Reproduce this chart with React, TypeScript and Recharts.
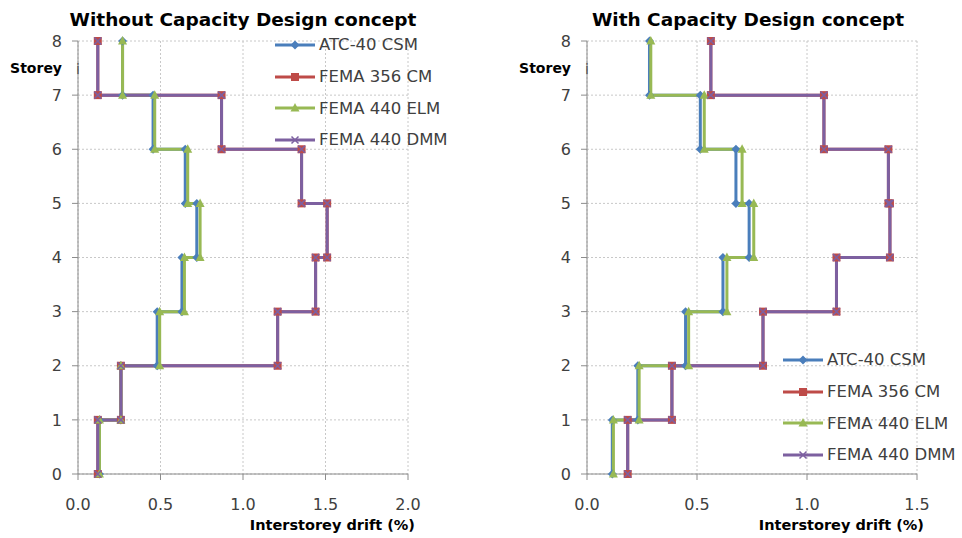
import React from 'react';
import { LineChart, Line, XAxis, YAxis, CartesianGrid, Legend, Label } from 'recharts';

const FONT = '"DejaVu Sans", sans-serif';
const TEXT = '#404040';
const AXIS = '#8c8c8c';

const seriesNames = ['ATC-40 CSM', 'FEMA 356 CM', 'FEMA 440 ELM', 'FEMA 440 DMM'];
const seriesColors = ['#4a7ebb', '#be4b48', '#98b954', '#7d60a0'];
const seriesMarkers = ['diamond', 'square', 'triangle', 'cross'];

const storeyTicks = [0, 1, 2, 3, 4, 5, 6, 7, 8];
const driftTicksLeft = [0, 0.5, 1, 1.5, 2];
const driftTicksRight = [0, 0.5, 1, 1.5];

// interstorey drift (%) for storeys 1..8, without capacity design
const woAtc40 = [0.13, 0.26, 0.48, 0.63, 0.72, 0.65, 0.455, 0.27];
const woFema356 = [0.12, 0.26, 1.21, 1.44, 1.51, 1.355, 0.87, 0.12];
const woFema440Elm = [0.13, 0.26, 0.495, 0.645, 0.74, 0.665, 0.465, 0.27];
const woFema440Dmm = [0.12, 0.26, 1.21, 1.44, 1.51, 1.355, 0.87, 0.12];

// interstorey drift (%) for storeys 1..8, with capacity design
const wAtc40 = [0.115, 0.231, 0.448, 0.618, 0.737, 0.677, 0.515, 0.284];
const wFema356 = [0.185, 0.386, 0.8, 1.134, 1.377, 1.37, 1.077, 0.563];
const wFema440Elm = [0.12, 0.237, 0.462, 0.636, 0.758, 0.705, 0.533, 0.29];
const wFema440Dmm = [0.185, 0.386, 0.8, 1.134, 1.377, 1.37, 1.077, 0.563];

// each storey drift becomes a vertical segment from floor i-1 to floor i
const toSteps = (drift: number[]) => {
  const pts: { x: number; y: number }[] = [];
  for (let i = drift.length; i >= 1; i--) {
    pts.push({ x: drift[i - 1], y: i });
    pts.push({ x: drift[i - 1], y: i - 1 });
  }
  return pts;
};

const Marker = ({ kind, cx, cy, color }: any) => {
  if (cx == null || cy == null) return null;
  switch (kind) {
    case 'diamond':
      return <path d={`M${cx},${cy - 4.5}L${cx + 4.5},${cy}L${cx},${cy + 4.5}L${cx - 4.5},${cy}Z`} fill={color} />;
    case 'square':
      return <rect x={cx - 4} y={cy - 4} width={8} height={8} fill={color} />;
    case 'triangle':
      return <path d={`M${cx},${cy - 5}L${cx + 4.5},${cy + 3.5}L${cx - 4.5},${cy + 3.5}Z`} fill={color} />;
    default:
      return (
        <path
          d={`M${cx - 3.5},${cy - 3.5}L${cx + 3.5},${cy + 3.5}M${cx + 3.5},${cy - 3.5}L${cx - 3.5},${cy + 3.5}`}
          stroke={color}
          strokeWidth={1.5}
        />
      );
  }
};

const LegendBox = () => (
  <div style={{ fontFamily: FONT }}>
    {seriesNames.map((n, i) => (
      <div key={n} style={{ height: 31.7, display: 'flex', alignItems: 'center' }}>
        <svg width={40} height={12} style={{ display: 'block' }}>
          <line x1={0} x2={40} y1={6} y2={6} stroke={seriesColors[i]} strokeWidth={3} />
          <Marker kind={seriesMarkers[i]} cx={20} cy={6} color={seriesColors[i]} />
        </svg>
        <span style={{ marginLeft: 4, fontSize: 16.5, color: TEXT, whiteSpace: 'nowrap' }}>{n}</span>
      </div>
    ))}
  </div>
);

type PanelProps = {
  series: number[][];
  maxDrift: number;
  driftTicks: number[];
  marginLeft: number;
  marginRight: number;
  legendPos: { left: number; top: number };
  width: number;
};

const Panel = ({ series, maxDrift, driftTicks, marginLeft, marginRight, legendPos, width }: PanelProps) => (
  <LineChart width={width} height={538} margin={{ top: 41, right: marginRight, left: marginLeft, bottom: 34 }}>
    <CartesianGrid stroke="#c8c8c8" strokeDasharray="2 2" />
    <XAxis
      type="number"
      dataKey="x"
      domain={[0, maxDrift]}
      ticks={driftTicks}
      allowDataOverflow
      tickFormatter={(v: number) => v.toFixed(1)}
      height={30}
      tickSize={6}
      tickMargin={19}
      stroke={AXIS}
      tick={{ fill: TEXT, fontSize: 16, fontFamily: FONT }}
    >
      <Label
        content={({ viewBox }: any) => (
          <text
            x={viewBox.x + viewBox.width + 7}
            y={viewBox.y + 51}
            textAnchor="end"
            dominantBaseline="central"
            fontFamily={FONT}
            fontWeight="bold"
            fontSize={14.5}
            fill="#000"
          >
            Interstorey drift (%)
          </text>
        )}
      />
    </XAxis>
    <YAxis
      type="number"
      dataKey="y"
      domain={[0, 8]}
      ticks={storeyTicks}
      width={30}
      tickSize={6}
      tickMargin={10}
      stroke={AXIS}
      tick={{ fill: TEXT, fontSize: 16, fontFamily: FONT }}
    >
      <Label
        content={({ viewBox }: any) => (
          <g>
            <text
              x={viewBox.x + viewBox.width - 16}
              y={viewBox.y + 27}
              textAnchor="end"
              dominantBaseline="central"
              fontFamily={FONT}
              fontWeight="bold"
              fontSize={14}
              fill="#000"
            >
              Storey
            </text>
            <text
              x={viewBox.x + viewBox.width}
              y={viewBox.y + 28}
              textAnchor="middle"
              dominantBaseline="central"
              fontFamily={FONT}
              fontSize={14}
              fill="#555"
            >
              i
            </text>
          </g>
        )}
      />
    </YAxis>
    <Legend
      layout="vertical"
      align="center"
      verticalAlign="middle"
      content={() => <LegendBox />}
      wrapperStyle={{ left: legendPos.left, top: legendPos.top, width: 'auto', height: 'auto' }}
    />
    {series.map((drift, i) => (
      <Line
        key={seriesNames[i]}
        name={seriesNames[i]}
        data={toSteps(drift)}
        dataKey="y"
        type="linear"
        stroke={seriesColors[i]}
        strokeWidth={3}
        activeDot={false}
        isAnimationActive={false}
        dot={(p: any) => (
          <g key={`${i}-${p.index}`}>
            <Marker kind={seriesMarkers[i]} cx={p.cx} cy={p.cy} color={seriesColors[i]} />
          </g>
        )}
      />
    ))}
  </LineChart>
);

const titleStyle: React.CSSProperties = {
  position: 'absolute',
  top: 8,
  height: 24,
  lineHeight: '24px',
  fontFamily: FONT,
  fontWeight: 'bold',
  fontSize: 18.5,
  color: '#000',
  whiteSpace: 'nowrap',
  transform: 'translateX(-50%)',
};

export default function App() {
  return (
    <div style={{ position: 'absolute', left: 0, top: 0, width: 962, height: 538, background: '#fff' }}>
      <div style={{ position: 'absolute', left: 0, top: 0 }}>
        <Panel
          series={[woAtc40, woFema356, woFema440Elm, woFema440Dmm]}
          maxDrift={2}
          driftTicks={driftTicksLeft}
          marginLeft={48}
          marginRight={72}
          legendPos={{ left: 275, top: 29 }}
          width={480}
        />
      </div>
      <div style={{ position: 'absolute', left: 480, top: 0 }}>
        <Panel
          series={[wAtc40, wFema356, wFema440Elm, wFema440Dmm]}
          maxDrift={1.5}
          driftTicks={driftTicksRight}
          marginLeft={77}
          marginRight={45}
          legendPos={{ left: 303, top: 344 }}
          width={482}
        />
      </div>
      <div style={{ ...titleStyle, left: 243 }}>Without Capacity Design concept</div>
      <div style={{ ...titleStyle, left: 748 }}>With Capacity Design concept</div>
    </div>
  );
}
